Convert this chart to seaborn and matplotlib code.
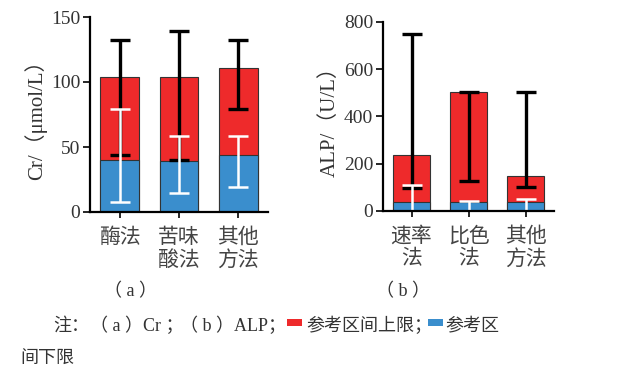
import matplotlib
matplotlib.use("Agg")
import matplotlib.pyplot as plt
import seaborn as sns
import pandas as pd
import numpy as np
from matplotlib.patches import Rectangle

sns.set_style("ticks")
plt.rcParams['font.family'] = ['Liberation Serif', 'Noto Sans CJK SC', 'DejaVu Sans']

# ---- data ----
cr_methods = ["酶法", "苦味\n酸法", "其他\n方法"]
cr_upper = [104, 104, 111]
cr_lower = [40, 39.5, 43.6]
cr_upper_lo = [43.5, 40, 79]
cr_upper_hi = [132, 139, 132]
cr_lower_lo = [8, 14.5, 19]
cr_lower_hi = [79, 58.5, 58.5]

alp_methods = ["速率\n法", "比色\n法", "其他\n方法"]
alp_upper = [238, 502, 148]
alp_lower = [37, 37, 37]
alp_upper_lo = [95, 125, 100]
alp_upper_hi = [748, 502, 502]
alp_lower_lo = [-20, -20, -20]
alp_lower_hi = [108, 40, 50]

RED = "#EE2A2B"
BLUE = "#3A8ECD"
EDGE = "#333333"
TXT = "#333333"
cjk = ['Liberation Serif', 'Noto Sans CJK SC']

fig = plt.figure(figsize=(6.19, 3.77), dpi=100)
axA = fig.add_axes([90/619, 1-212/377, 178/619, 195/377])
axB = fig.add_axes([383/619, 1-210.7/377, 171/619, 188.7/377])


def draw(ax, cats, up, lo, uplo, uphi, lolo, lohi, ymax, ystep, ylabel):
    df_u = pd.DataFrame({"cat": cats, "val": up})
    df_l = pd.DataFrame({"cat": cats, "val": lo})
    sns.barplot(data=df_u, x="cat", y="val", color=RED, width=0.65,
                edgecolor=EDGE, linewidth=0.8, saturation=1, ax=ax)
    sns.barplot(data=df_l, x="cat", y="val", color=BLUE, width=0.65,
                edgecolor=EDGE, linewidth=0.8, saturation=1, ax=ax)
    x = np.arange(len(cats))
    uplo, uphi = np.array(uplo, float), np.array(uphi, float)
    lolo, lohi = np.array(lolo, float), np.array(lohi, float)
    ax.errorbar(x, (uplo+uphi)/2, yerr=(uphi-uplo)/2, fmt='none',
                ecolor='black', elinewidth=2.4, capsize=7, capthick=2.4, zorder=4)
    ax.errorbar(x, (lolo+lohi)/2, yerr=(lohi-lolo)/2, fmt='none',
                ecolor='white', elinewidth=1.8, capsize=7, capthick=1.8, zorder=5)
    ax.set_ylim(0, ymax)
    ax.set_xlim(-0.5, 2.5)
    ax.set_yticks(np.arange(0, ymax+1, ystep))
    ax.set_xlabel("")
    ax.set_ylabel(ylabel, fontsize=15, color=TXT, family=cjk, labelpad=3)
    for s in ["top", "right"]:
        ax.spines[s].set_visible(False)
    for s in ["left", "bottom"]:
        ax.spines[s].set_linewidth(1.6)
        ax.spines[s].set_color("black")
        ax.spines[s].set_zorder(6)
    ax.tick_params(axis='y', length=5, width=1.4, labelsize=14, labelcolor=TXT, pad=2)
    ax.tick_params(axis='x', length=4, width=1.4, pad=6)
    ax.set_xticks(x)
    ax.set_xticklabels(cats, fontsize=15, color="#444444", family='Noto Sans CJK SC',
                       linespacing=1.05)
    for lab in ax.get_yticklabels():
        lab.set_family('Liberation Serif')


draw(axA, cr_methods, cr_upper, cr_lower, cr_upper_lo, cr_upper_hi,
     cr_lower_lo, cr_lower_hi, 150, 50, "Cr/（μmol/L）")
draw(axB, alp_methods, alp_upper, alp_lower, alp_upper_lo, alp_upper_hi,
     alp_lower_lo, alp_lower_hi, 800, 200, "ALP/（U/L）")

W, H = 619, 377
def ft(x, y, s, size=13, **kw):
    fig.text(x/W, 1-y/H, s, color=TXT, family=cjk, fontsize=size, **kw)

ft(130, 292, "（ a ）", size=13, ha='center', va='center')
ft(403, 292, "（ b ）", size=13, ha='center', va='center')

ft(53, 326, "注：", ha='left', va='center')
ft(90, 326, "（ a ）Cr ；", ha='left', va='center')
ft(180, 326, "（ b ）ALP；", ha='left', va='center')
fig.patches.append(Rectangle((287/W, 1-326/H), 15/W, 7/H, transform=fig.transFigure,
                             facecolor=RED, edgecolor='none'))
ft(306, 326, "参考区间上限；", ha='left', va='center')
fig.patches.append(Rectangle((428/W, 1-326/H), 15/W, 7/H, transform=fig.transFigure,
                             facecolor=BLUE, edgecolor='none'))
ft(445, 326, "参考区", ha='left', va='center')
ft(20, 359, "间下限", ha='left', va='center')

fig.savefig("out.png", dpi=100)
